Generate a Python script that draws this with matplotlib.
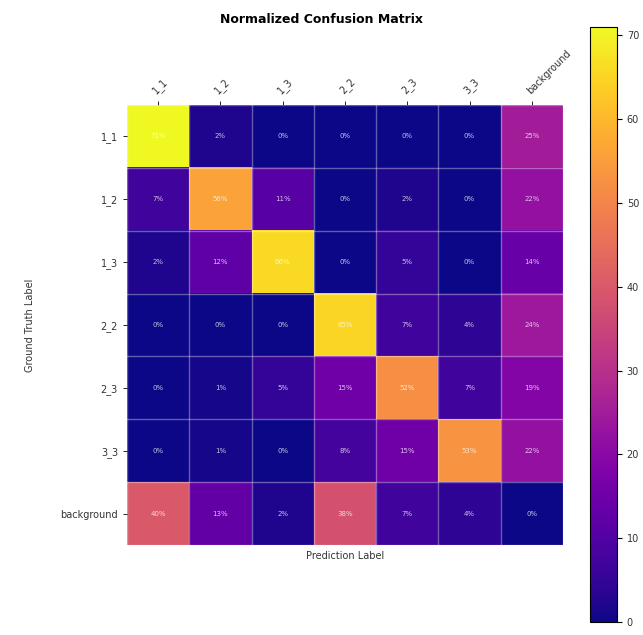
import numpy as np
import matplotlib
matplotlib.use("Agg")
import matplotlib.pyplot as plt

pred_labels = ["1_1", "1_2", "1_3", "2_2", "2_3", "3_3", "background"]
true_labels = ["1_1", "1_2", "1_3", "2_2", "2_3", "3_3", "background"]

row_1_1 = [71, 2, 0, 0, 0, 0, 25]
row_1_2 = [7, 56, 11, 0, 2, 0, 22]
row_1_3 = [2, 12, 66, 0, 5, 0, 14]
row_2_2 = [0, 0, 0, 65, 7, 4, 24]
row_2_3 = [0, 1, 5, 15, 52, 7, 19]
row_3_3 = [0, 1, 0, 8, 15, 53, 22]
row_bg = [40, 13, 2, 38, 7, 4, 0]

cm = np.array([row_1_1, row_1_2, row_1_3, row_2_2, row_2_3, row_3_3, row_bg], dtype=float)

fig = plt.figure(figsize=(6.43, 6.35), dpi=100)
ax = fig.add_axes([0.1975, 0.1417, 0.678, 0.693])
cax = fig.add_axes([0.9176, 0.0205, 0.042, 0.937])

im = ax.imshow(cm, cmap="plasma", vmin=0, vmax=cm.max(), aspect="auto")
cb = fig.colorbar(im, cax=cax)
cb.ax.tick_params(labelsize=7, labelcolor="#333333")
cb.outline.set_linewidth(0.8)

n = len(pred_labels)
ax.set_xticks(np.arange(n))
ax.set_yticks(np.arange(n))
ax.set_xticklabels(pred_labels, rotation=45, ha="left", rotation_mode="anchor", fontsize=7)
ax.set_yticklabels(true_labels, fontsize=7)
ax.xaxis.tick_top()
ax.tick_params(length=3, width=0.6, labelcolor="#333333")

ax.set_xticks(np.arange(-0.5, n, 1), minor=True)
ax.set_yticks(np.arange(-0.5, n, 1), minor=True)
ax.grid(which="minor", color="white", alpha=0.35, linewidth=1)
ax.tick_params(which="minor", length=0)
for s in ax.spines.values():
    s.set_visible(False)

for i in range(n):
    for j in range(n):
        ax.text(j, i, f"{int(cm[i, j])}%", ha="center", va="center",
                color="white", alpha=0.75, fontsize=5)

ax.set_xlabel("Prediction Label", fontsize=7, color="#333333")
ax.set_ylabel("Ground Truth Label", fontsize=7, labelpad=18, color="#333333")
fig.text(0.5, 0.970, "Normalized Confusion Matrix", ha="center", va="center",
         fontsize=9, fontweight="bold")

fig.savefig("out.png", dpi=100)
